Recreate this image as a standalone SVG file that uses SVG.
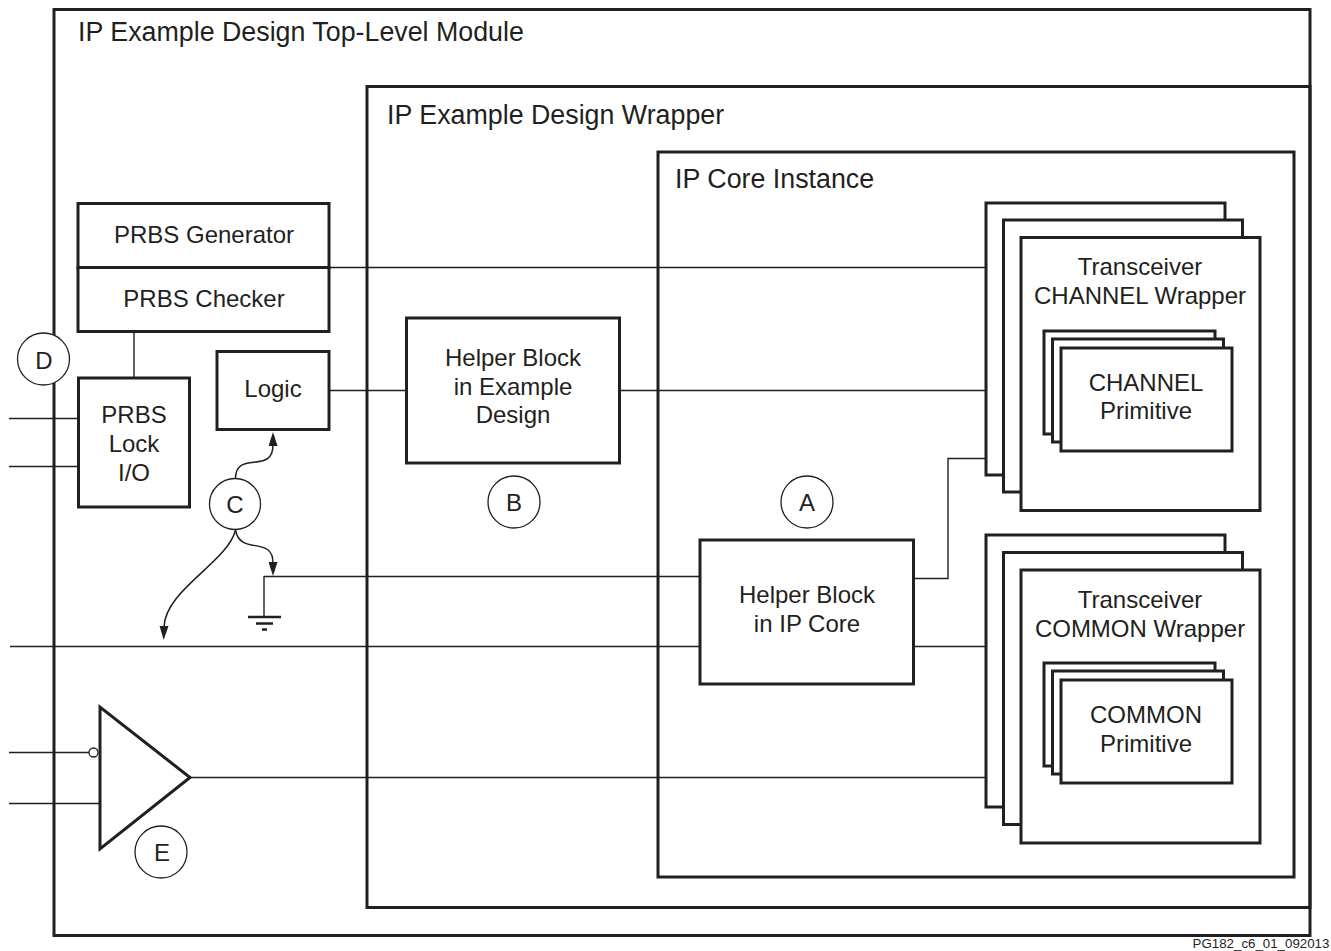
<svg xmlns="http://www.w3.org/2000/svg" width="1331" height="951" viewBox="0 0 1331 951">
<style>
text{font-family:"Liberation Sans",Arial,sans-serif;font-size:24px;fill:#231f20;text-anchor:middle}
.l{text-anchor:start;font-size:26.800px}
.b{fill:#fff;stroke:#231f20;stroke-width:3}
.f{fill:none;stroke:#231f20;stroke-width:3}
.c{fill:#fff;stroke:#231f20;stroke-width:1.3}
.w{fill:none;stroke:#231f20;stroke-width:1.4}
.t{fill:none;stroke:#231f20;stroke-width:1.5}
.g{fill:none;stroke:#231f20;stroke-width:2.500}
</style>
<defs>
<marker id="a" viewBox="0 0 14 9" refX="1" refY="4.500" markerWidth="14" markerHeight="9" markerUnits="userSpaceOnUse" orient="auto"><path d="M0 0L14 4.500L0 9Z" fill="#231f20"/></marker>
</defs>
<rect width="1331" height="951" fill="#fff"/>
<g id="top-module"><rect class="f" x="54" y="9.500" width="1256" height="926"/><text class="l" x="78" y="41">IP Example Design Top-Level Module</text></g>
<g id="wrapper"><rect class="f" x="367" y="86.500" width="943" height="821"/><text class="l" x="387" y="124">IP Example Design Wrapper</text></g>
<g id="core"><rect class="f" x="658" y="152" width="636" height="725"/><text class="l" x="675" y="188">IP Core Instance</text></g>
<g id="connectors">
<path class="w" d="M330 267.500H986M134 332V378M330 390.500H406M620 390.500H986M915 578.500H948V458.500H986M264 576.500H700M264 576V616M10 646.500H700M914 646.500H986M190 777.500H1022M9 418.500H78M9 466.500H78M9 752.500H90M9 803.500H100"/>
<path class="g" d="M248 617H281M256 623.500H273M262 629.500H267"/>
<path class="t" marker-end="url(#a)" d="M235.500 478C236 450 273 475 273 445"/>
<path class="t" marker-end="url(#a)" d="M235.500 530C240 556 273 535 273 563"/>
<path class="t" marker-end="url(#a)" d="M235.500 530C228 562 165 590 164 627"/>
</g>
<g id="prbs-generator"><rect class="b" x="78" y="203.500" width="251" height="64"/><text x="204" y="243">PRBS Generator</text></g>
<g id="prbs-checker"><rect class="b" x="78" y="267.500" width="251" height="64"/><text x="204" y="307">PRBS Checker</text></g>
<g id="prbs-lock"><rect class="b" x="78.500" y="378" width="111" height="129"/><text x="134" y="423">PRBS</text><text x="134" y="452">Lock</text><text x="134" y="481">I/O</text></g>
<g id="logic"><rect class="b" x="217" y="351.500" width="112" height="78"/><text x="273" y="397">Logic</text></g>
<g id="helper-example"><rect class="b" x="406.500" y="318" width="213" height="145"/><text x="513" y="366">Helper Block</text><text x="513" y="395">in Example</text><text x="513" y="423">Design</text></g>
<g id="helper-core"><rect class="b" x="700" y="540" width="213.500" height="144"/><text x="807" y="603">Helper Block</text><text x="807" y="632">in IP Core</text></g>
<g id="channel-wrapper"><rect class="b" x="986" y="203" width="239" height="272"/><rect class="b" x="1003.500" y="220" width="239" height="272"/><rect class="b" x="1021" y="237.500" width="239" height="273"/><text x="1140" y="275">Transceiver</text><text x="1140" y="304">CHANNEL Wrapper</text></g>
<g id="channel-primitive"><rect class="b" x="1044" y="331" width="171" height="103"/><rect class="b" x="1052.500" y="339" width="171" height="103"/><rect class="b" x="1061" y="348" width="171" height="103"/><text x="1146" y="391">CHANNEL</text><text x="1146" y="419">Primitive</text></g>
<g id="common-wrapper"><rect class="b" x="986" y="535" width="239" height="272"/><rect class="b" x="1003.500" y="552.500" width="239" height="272"/><rect class="b" x="1021" y="570" width="239" height="273"/><text x="1140" y="608">Transceiver</text><text x="1140" y="637">COMMON Wrapper</text></g>
<g id="common-primitive"><rect class="b" x="1044" y="663" width="171" height="103"/><rect class="b" x="1052.500" y="671" width="171" height="103"/><rect class="b" x="1061" y="680" width="171" height="103"/><text x="1146" y="723">COMMON</text><text x="1146" y="752">Primitive</text></g>
<g id="buffer"><path class="b" d="M100 707V849L190 777.500Z"/><circle class="c" cx="93.500" cy="752.500" r="4.500"/></g>
<g id="label-a"><circle class="c" cx="807" cy="502" r="26"/><text x="807" y="511">A</text></g>
<g id="label-b"><circle class="c" cx="514" cy="502" r="26"/><text x="514" y="511">B</text></g>
<g id="label-c"><circle class="c" cx="235" cy="504" r="25.500"/><text x="235" y="513">C</text></g>
<g id="label-d"><circle class="c" cx="43.500" cy="359" r="26"/><text x="44" y="369">D</text></g>
<g id="label-e"><circle class="c" cx="161" cy="852" r="26"/><text x="162" y="861">E</text></g>
<text x="1261" y="948" style="font-size:13.300px">PG182_c6_01_092013</text>
</svg>
